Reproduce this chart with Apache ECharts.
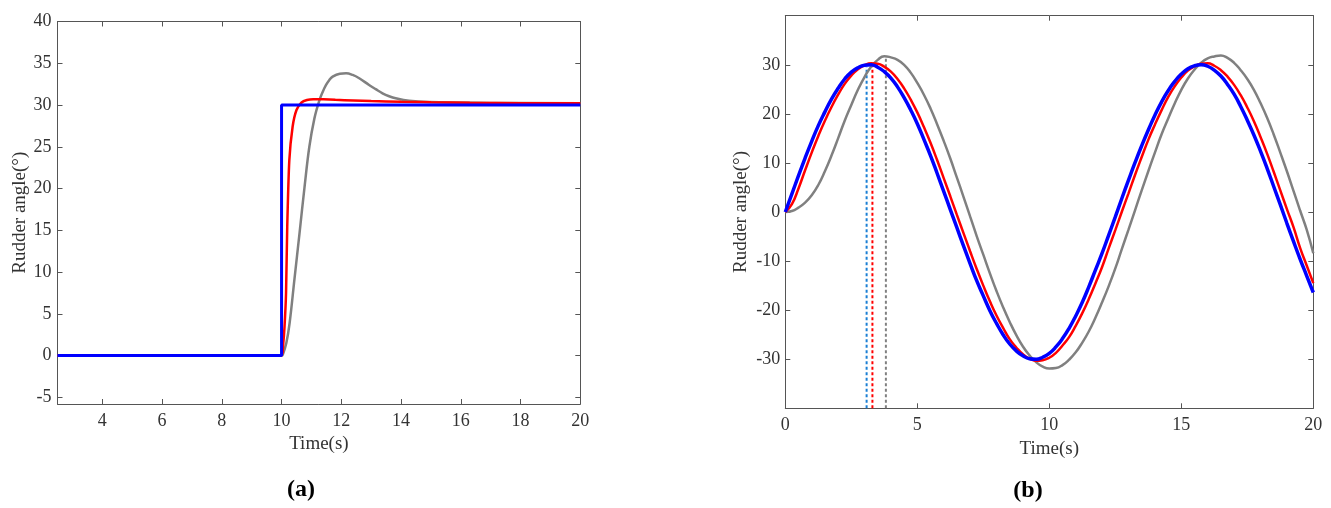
<!DOCTYPE html>
<html>
<head>
<meta charset="utf-8">
<script src="https://cdn.jsdelivr.net/npm/echarts@6/dist/echarts.min.js"></script>
<style>
html,body{margin:0;padding:0;background:#fff;}
#chart{width:1331px;height:508px;}
</style>
</head>
<body>
<div id="chart"></div>
<script>
// ---------- Panel (a): step response ----------
const stepTime = [2.5, 10, 10, 20];
const stepRef  = [0, 0, 30, 30];

const redStepTime = [2.5, 10.0, 10.05, 10.1, 10.15, 10.19, 10.26, 10.37, 10.5, 10.67, 10.85, 11.06, 11.4, 11.8, 12.4, 13.0, 14.0, 15.0, 16.3, 18.0, 20.0];
const redStepVal  = [0, 0, 1.2, 3.5, 7.5, 15.4, 23.4, 27.4, 29.4, 30.3, 30.6, 30.7, 30.68, 30.62, 30.55, 30.48, 30.38, 30.32, 30.27, 30.22, 30.2];

const grayStepTime = [2.5, 10.0, 10.04, 10.16, 10.27, 10.43, 10.6, 10.77, 10.93, 11.1, 11.27, 11.38, 11.49, 11.6, 11.71, 11.95, 12.16, 12.38, 12.6, 12.93, 13.15, 13.38, 13.6, 13.82, 14.27, 14.93, 17.0, 20.0];
const grayStepVal  = [0, 0, 0.1, 1.5, 3.9, 9.1, 14.6, 20.2, 25.0, 28.4, 30.6, 31.6, 32.4, 33.0, 33.4, 33.75, 33.8, 33.6, 33.2, 32.4, 31.9, 31.4, 31.05, 30.8, 30.5, 30.35, 30.25, 30.2];

const aXTicks = [4, 6, 8, 10, 12, 14, 16, 18, 20];
const aYTicks = [-5, 0, 5, 10, 15, 20, 25, 30, 35, 40];

// ---------- Panel (b): sinusoidal tracking (sampled every 0.25 s) ----------
const sineTime = [];
for (let k = 0; k <= 80; k++) sineTime.push(k * 0.25);
const blueSine = [0,3.7,7.4,11.0,14.4,17.6,20.4,23.0,25.2,27.1,28.5,29.4,29.9,30.0,29.5,28.6,27.3,25.5,23.3,20.8,18.0,14.8,11.5,7.9,4.2,0.5,-3.2,-6.9,-10.5,-14.0,-17.1,-20.1,-22.7,-25.0,-26.9,-28.3,-29.3,-29.9,-30.0,-29.6,-28.8,-27.5,-25.8,-23.7,-21.2,-18.4,-15.2,-11.8,-8.4,-4.7,-1.0,2.8,6.5,10.1,13.5,16.7,19.7,22.4,24.7,26.6,28.1,29.2,29.8,30.0,29.7,28.9,27.7,26.0,24.0,21.5,18.7,15.7,12.4,8.9,5.2,1.5,-2.3,-6.0,-9.6,-13.0,-16.4];
const redSine  = [0,1.6,4.8,8.5,12.1,15.5,18.6,21.4,23.9,26.1,27.8,29.1,29.9,30.3,30.2,29.6,28.6,27.1,25.2,22.9,20.3,17.3,14.1,10.6,6.9,3.2,-0.6,-4.3,-8.0,-11.6,-15.0,-18.2,-21.1,-23.6,-25.9,-27.6,-29.0,-29.9,-30.3,-30.2,-29.7,-28.7,-27.2,-25.5,-23.2,-20.6,-17.7,-14.5,-11.2,-7.4,-3.7,0.1,3.8,7.6,11.2,14.7,17.8,20.7,23.4,25.6,27.4,28.8,29.7,30.2,30.3,29.8,28.9,27.6,25.9,23.8,21.3,18.5,15.3,11.9,8.2,4.4,0.6,-3.1,-7.3,-10.9,-14.5];
const graySine = [0,0.2,0.9,1.9,3.4,5.5,8.3,11.5,15.0,18.6,21.8,24.9,27.5,29.6,31.0,31.75,31.5,31.0,30.0,28.4,26.3,23.9,21.1,17.9,14.5,10.9,7.0,3.1,-0.9,-4.9,-8.7,-12.5,-16.1,-19.4,-22.4,-25.1,-27.4,-29.2,-30.6,-31.5,-31.9,-31.8,-31.2,-30.1,-28.6,-26.6,-24.3,-21.5,-18.4,-15.1,-11.5,-7.5,-3.6,0.4,4.4,8.3,12.1,15.8,19.0,22.1,24.9,27.2,29.0,30.4,31.3,31.7,31.9,31.4,30.4,28.9,27.1,24.9,22.2,19.2,15.8,12.1,8.3,4.3,0.3,-3.6,-8.4];

// peak-time markers (time, top value)
const peakBlue = [3.08, 29.6];
const peakRed  = [3.30, 29.8];
const peakGray = [3.81, 31.5];

const bXTicks = [0, 5, 10, 15, 20];
const bYTicks = [-30, -20, -10, 0, 10, 20, 30];

function pairs(xs, ys){ return xs.map((x,i)=>[x, ys[i]]); }

const FONT = 'Liberation Serif';
const TXT = '#333333';
const AX = '#555555';
const TICKFS = 18;
const NAMEFS = 19;

function axisCommon(extra){
  return Object.assign({
    type:'value',
    axisLine:{show:true, onZero:false, lineStyle:{color:AX, width:1}},
    splitLine:{show:false},
    nameTextStyle:{fontFamily:FONT, fontSize:NAMEFS, color:TXT}
  }, extra);
}
function lbl(values, margin){ return {fontFamily:FONT, fontSize:TICKFS, color:TXT, margin:margin, customValues:values}; }
function tck(values){ return {show:true, inside:true, length:5, lineStyle:{color:AX}, customValues:values}; }

const option = {
  animation:false,
  backgroundColor:'#ffffff',
  title:[
    {text:'(a)', left:296, top:473, textAlign:'center',
     textStyle:{fontFamily:FONT, fontWeight:'bold', fontSize:24, color:'#000'}},
    {text:'(b)', left:1023, top:474, textAlign:'center',
     textStyle:{fontFamily:FONT, fontWeight:'bold', fontSize:24, color:'#000'}}
  ],
  grid:[
    {left:57.5, top:21.5, width:522.8, height:382.5, containLabel:false},
    {left:785.3, top:15.7, width:528, height:392.6, containLabel:false}
  ],
  xAxis:[
    axisCommon({gridIndex:0, position:'bottom', min:2.5, max:20,
      name:'Time(s)', nameLocation:'middle', nameGap:29,
      axisLabel:lbl(aXTicks, 8), axisTick:tck(aXTicks)}),
    axisCommon({gridIndex:0, position:'top', min:2.5, max:20,
      axisLabel:{show:false}, axisTick:tck(aXTicks)}),
    axisCommon({gridIndex:1, position:'bottom', min:0, max:20, interval:5,
      name:'Time(s)', nameLocation:'middle', nameGap:30,
      axisLabel:lbl(bXTicks, 8), axisTick:tck(bXTicks)}),
    axisCommon({gridIndex:1, position:'top', min:0, max:20, interval:5,
      axisLabel:{show:false}, axisTick:tck(bXTicks)})
  ],
  yAxis:[
    axisCommon({gridIndex:0, position:'left', min:-5.8, max:40,
      name:'Rudder angle(°)', nameLocation:'middle', nameGap:27, nameRotate:90,
      axisLabel:lbl(aYTicks, 6), axisTick:tck(aYTicks)}),
    axisCommon({gridIndex:0, position:'right', min:-5.8, max:40,
      axisLabel:{show:false}, axisTick:tck(aYTicks)}),
    axisCommon({gridIndex:1, position:'left', min:-40, max:40, interval:10,
      name:'Rudder angle(°)', nameLocation:'middle', nameGap:35, nameRotate:90,
      axisLabel:lbl(bYTicks, 5), axisTick:tck(bYTicks)}),
    axisCommon({gridIndex:1, position:'right', min:-40, max:40, interval:10,
      axisLabel:{show:false}, axisTick:tck(bYTicks)})
  ],
  series:[
    // panel (a)
    {type:'line', xAxisIndex:0, yAxisIndex:0, data:pairs(grayStepTime, grayStepVal), showSymbol:false, smooth:0.4,
     lineStyle:{color:'#808080', width:2.5}, z:2},
    {type:'line', xAxisIndex:0, yAxisIndex:0, data:pairs(redStepTime, redStepVal), showSymbol:false, smooth:0.2,
     lineStyle:{color:'#ff0000', width:2.5}, z:3},
    {type:'line', xAxisIndex:0, yAxisIndex:0, data:pairs(stepTime, stepRef), showSymbol:false,
     lineStyle:{color:'#0000ff', width:3}, z:4},
    // panel (b) peak markers
    {type:'line', xAxisIndex:2, yAxisIndex:2, data:[[peakGray[0], -40],[peakGray[0], peakGray[1]]], showSymbol:false,
     lineStyle:{color:'#808080', width:2, type:[3,2.5]}, z:1},
    {type:'line', xAxisIndex:2, yAxisIndex:2, data:[[peakRed[0], -40],[peakRed[0], peakRed[1]]], showSymbol:false,
     lineStyle:{color:'#ff0000', width:2, type:[3,2.5]}, z:1},
    {type:'line', xAxisIndex:2, yAxisIndex:2, data:[[peakBlue[0], -40],[peakBlue[0], peakBlue[1]]], showSymbol:false,
     lineStyle:{color:'#1a7fd4', width:2, type:[3,2.5]}, z:1},
    // panel (b) curves
    {type:'line', xAxisIndex:2, yAxisIndex:2, data:pairs(sineTime, graySine), showSymbol:false, smooth:0.5,
     lineStyle:{color:'#808080', width:2.5}, z:2},
    {type:'line', xAxisIndex:2, yAxisIndex:2, data:pairs(sineTime, redSine), showSymbol:false, smooth:0.5,
     lineStyle:{color:'#ff0000', width:2.5}, z:3},
    {type:'line', xAxisIndex:2, yAxisIndex:2, data:pairs(sineTime, blueSine), showSymbol:false, smooth:0.5,
     lineStyle:{color:'#0000ff', width:3.5}, z:4}
  ]
};

const chart = echarts.init(document.getElementById('chart'), null, {renderer:'canvas'});
chart.setOption(option);
</script>
</body>
</html>
